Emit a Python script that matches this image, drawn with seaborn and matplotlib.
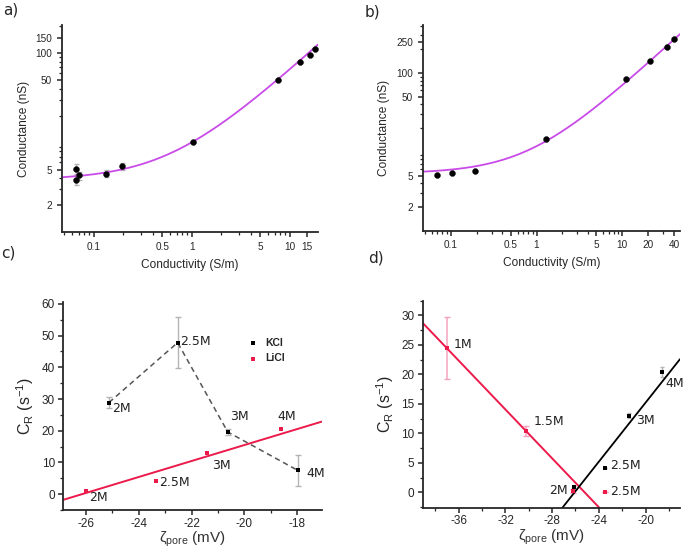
import numpy as np
import pandas as pd
import seaborn as sns
import matplotlib.pyplot as plt
from matplotlib.ticker import FixedLocator, FixedFormatter, MultipleLocator, LogLocator, NullFormatter

# -------------------------
# data
# -------------------------

# a) conductance vs conductivity
a_sigma = [0.0657, 0.0667, 0.071, 0.133, 0.195, 1.02, 7.6, 12.6, 16.0, 18.2]
a_g = [5.1, 3.83, 4.3, 4.5, 5.45, 10.1, 50, 80, 95, 111]
a_err = [0.6, 0.5, 0.45, 0.4, 0.45, 0, 0, 0, 0, 0]
a_fit = [6.3, 3.8]  # slope, intercept of G = G0 + k*sigma
a_xticks = [0.1, 0.5, 1, 5, 10, 15]
a_xlabels = ["0.1", "0.5", "1", "5", "10", "15"]
a_yticks = [2, 5, 50, 100, 150]
a_ylabels = ["2", "5", "50", "100", "150"]

# b) conductance vs conductivity
b_sigma = [0.07, 0.102, 0.192, 1.28, 10.96, 21, 33, 40.5]
b_g = [5.1, 5.45, 5.8, 14.4, 83.8, 140, 215, 268]
b_fit = [6.5, 5.3]
b_xticks = [0.1, 0.5, 1, 5, 10, 20, 40]
b_xlabels = ["0.1", "0.5", "1", "5", "10", "20", "40"]
b_yticks = [2, 5, 50, 100, 250]
b_ylabels = ["2", "5", "50", "100", "250"]

# c) capture rate vs zeta potential
c_kcl_zeta = [-25.13, -22.53, -20.63, -17.98]
c_kcl_cr = [28.9, 47.8, 19.6, 7.5]
c_kcl_err = [1.8, 8.0, 1.0, 5.0]
c_kcl_lab = ["2M", "2.5M", "3M", "4M"]
c_licl_zeta = [-26.0, -23.35, -21.4, -18.6]
c_licl_cr = [1.0, 4.2, 13.1, 20.5]
c_licl_lab = ["2M", "2.5M", "3M", "4M"]
c_licl_fit = [2.52, 65.9]

# d) capture rate vs zeta potential
d_red_zeta = [-37.0, -30.2, -26.2, -23.43]
d_red_cr = [24.45, 10.4, 0.2, 0.1]
d_red_err = [5.3, 0.8, 0.3, 0.0]
d_red_lab = ["1M", "1.5M", "", "2.5M"]
d_red_fit = [-2.07, -52.2]
d_blk_zeta = [-26.1, -23.43, -21.4, -18.57]
d_blk_cr = [0.85, 4.2, 13.0, 20.4]
d_blk_err = [0.3, 0.0, 0.4, 0.8]
d_blk_lab = ["2M", "2.5M", "3M", "4M"]
d_blk_fit = [2.5, 65.2]

# -------------------------
# style
# -------------------------
sns.set_theme(style="ticks")
plt.rcParams["font.family"] = ["Liberation Sans", "DejaVu Sans"]
plt.rcParams["mathtext.default"] = "regular"
plt.rcParams["axes.unicode_minus"] = False
plt.rcParams["axes.linewidth"] = 1.3
plt.rcParams["xtick.major.width"] = 1.1
plt.rcParams["ytick.major.width"] = 1.1
plt.rcParams["xtick.minor.width"] = 0.9
plt.rcParams["ytick.minor.width"] = 0.9
plt.rcParams["xtick.major.size"] = 3.5
plt.rcParams["ytick.major.size"] = 3.5
plt.rcParams["xtick.minor.size"] = 2.0
plt.rcParams["ytick.minor.size"] = 2.0
plt.rcParams["xtick.direction"] = "out"
plt.rcParams["ytick.direction"] = "out"

PURPLE = "#c94be8"
RED = "#ec1a4b"
PINK = "#f3a3bd"
GREY = "#b4b4b4"
ANN = ["DejaVu Sans"]

fig = plt.figure(figsize=(6.85, 5.51), dpi=100)
ax_a = fig.add_axes([0.0905, 0.579, 0.3737, 0.3757])
ax_b = fig.add_axes([0.617, 0.5813, 0.3756, 0.3733])
ax_c = fig.add_axes([0.0924, 0.0744, 0.377, 0.378])
ax_d = fig.add_axes([0.617, 0.0786, 0.3756, 0.3757])


def log_panel(ax, x, y, fit, xlim, ylim, xt, xl, yt, yl, err=None):
    ax.set_xscale("log")
    ax.set_yscale("log")
    grid = np.geomspace(xlim[0], xlim[1], 200)
    sns.lineplot(x=grid, y=np.polyval(fit, grid), ax=ax, color=PURPLE, lw=1.3, zorder=2)
    if err is not None:
        ax.errorbar(x, y, yerr=err, fmt="none", ecolor=GREY, elinewidth=1.0,
                    capsize=1.8, capthick=1.0, zorder=1)
    sns.scatterplot(x=x, y=y, ax=ax, color="black", s=18, edgecolor="black",
                    linewidth=0.3, zorder=3)
    ax.set_xlim(xlim)
    ax.set_ylim(ylim)
    ax.xaxis.set_major_locator(FixedLocator(xt))
    ax.xaxis.set_major_formatter(FixedFormatter(xl))
    ax.yaxis.set_major_locator(FixedLocator(yt))
    ax.yaxis.set_major_formatter(FixedFormatter(yl))
    ax.xaxis.set_minor_locator(LogLocator(base=10, subs=np.arange(2, 10)))
    ax.yaxis.set_minor_locator(LogLocator(base=10, subs=np.arange(2, 10)))
    ax.xaxis.set_minor_formatter(NullFormatter())
    ax.yaxis.set_minor_formatter(NullFormatter())
    ax.tick_params(labelsize=7.2)
    ax.set_xlabel("Conductivity (S/m)", fontsize=8.6, labelpad=5)
    ax.set_ylabel("Conductance (nS)", fontsize=8.6, labelpad=4)
    sns.despine(ax=ax)


log_panel(ax_a, a_sigma, a_g, a_fit, (0.0475, 19.3), (1.0, 208),
          a_xticks, a_xlabels, a_yticks, a_ylabels, err=a_err)
log_panel(ax_b, b_sigma, b_g, b_fit, (0.047, 47), (1.0, 406),
          b_xticks, b_xlabels, b_yticks, b_ylabels)


def zeta_axes(ax):
    ax.tick_params(labelsize=8.5)
    ax.tick_params(axis="x", pad=2)
    ax.tick_params(axis="y", pad=2.5)
    ax.set_xlabel("\u03b6$_{pore}$ (mV)", fontsize=11, labelpad=0, color="#333333")
    ax.set_ylabel("C$_R$ (s$^{-1}$)", fontsize=11.5, labelpad=4)
    sns.despine(ax=ax)


def label_points(ax, xs, ys, labels, offsets, ha="left"):
    for x, y, t, off in zip(xs, ys, labels, offsets):
        if t:
            ax.annotate(t, (x, y), xytext=off, textcoords="offset points",
                        ha=ha, va="center", fontsize=9, family=ANN, color="#222222")


# c)
c_xlim = (-26.86, -17.08)
ax_c.errorbar(c_kcl_zeta, c_kcl_cr, yerr=c_kcl_err, fmt="none", ecolor=GREY,
              elinewidth=1.0, capsize=2, capthick=1.0, zorder=1)
sns.lineplot(x=c_kcl_zeta, y=c_kcl_cr, ax=ax_c, color="#555555", lw=1.1,
             linestyle=(0, (3.5, 2.5)), zorder=2)
grid_c = np.linspace(c_xlim[0], c_xlim[1], 50)
sns.lineplot(x=grid_c, y=np.polyval(c_licl_fit, grid_c), ax=ax_c, color=RED, lw=1.4, zorder=2)
sns.scatterplot(x=c_kcl_zeta, y=c_kcl_cr, ax=ax_c, color="black", marker="s", s=9,
                linewidth=0, label="KCl", zorder=3)
sns.scatterplot(x=c_licl_zeta, y=c_licl_cr, ax=ax_c, color=RED, marker="s", s=12,
                linewidth=0, label="LiCl", zorder=3)
ax_c.set_xlim(c_xlim)
ax_c.set_ylim(-5, 60.7)
ax_c.xaxis.set_major_locator(MultipleLocator(2))
ax_c.xaxis.set_minor_locator(MultipleLocator(1))
ax_c.yaxis.set_major_locator(MultipleLocator(10))
ax_c.yaxis.set_minor_locator(MultipleLocator(5))
ax_c.legend(loc="upper left", bbox_to_anchor=(0.665, 0.86), frameon=False,
            handletextpad=0.2, labelspacing=0.5, borderpad=0.2,
            markerscale=1.0, prop={"weight": "bold", "size": 7.5})
label_points(ax_c, c_kcl_zeta, c_kcl_cr, c_kcl_lab,
             [(2, -4), (1.5, 0.5), (1.5, 11.5), (6.5, -2)])
label_points(ax_c, c_licl_zeta, c_licl_cr, c_licl_lab,
             [(2.5, -5), (2.5, -1.5), (3.5, -9), (-3, 9)])
zeta_axes(ax_c)

# d)
d_xlim = (-39.1, -17.05)
grid_d = np.linspace(d_xlim[0], d_xlim[1], 50)
ax_d.errorbar(d_red_zeta, d_red_cr, yerr=d_red_err, fmt="none", ecolor=PINK,
              elinewidth=1.1, capsize=2, capthick=1.0, zorder=1)
ax_d.errorbar(d_blk_zeta, d_blk_cr, yerr=d_blk_err, fmt="none", ecolor=GREY,
              elinewidth=1.0, capsize=1.5, capthick=1.0, zorder=1)
sns.lineplot(x=grid_d, y=np.polyval(d_red_fit, grid_d), ax=ax_d, color=RED, lw=1.4, zorder=2)
sns.lineplot(x=grid_d, y=np.polyval(d_blk_fit, grid_d), ax=ax_d, color="black", lw=1.3, zorder=2)
sns.scatterplot(x=d_red_zeta, y=d_red_cr, ax=ax_d, color=RED, marker="s", s=12,
                linewidth=0, zorder=3)
sns.scatterplot(x=d_blk_zeta, y=d_blk_cr, ax=ax_d, color="black", marker="s", s=9,
                linewidth=0, zorder=3)
ax_d.set_xlim(d_xlim)
ax_d.set_ylim(-2.6, 32.5)
ax_d.xaxis.set_major_locator(MultipleLocator(4))
ax_d.xaxis.set_minor_locator(MultipleLocator(2))
ax_d.yaxis.set_major_locator(MultipleLocator(5))
ax_d.yaxis.set_minor_locator(MultipleLocator(2.5))
label_points(ax_d, d_red_zeta, d_red_cr, d_red_lab,
             [(5, 2.5), (5, 6.5), (0, 0), (3, 0)])
label_points(ax_d, d_blk_zeta[1:], d_blk_cr[1:], d_blk_lab[1:],
             [(3, 1.5), (5, -3.5), (2, -8)])
label_points(ax_d, d_blk_zeta[:1], d_blk_cr[:1], d_blk_lab[:1], [(-5, -2)], ha="right")
zeta_axes(ax_d)

# panel letters
for txt, x, y in [("a)", 0.004, 0.982), ("b)", 0.533, 0.978),
                  ("c)", 0.002, 0.541), ("d)", 0.537, 0.532)]:
    fig.text(x, y, txt, fontsize=11, va="center", ha="left", family=ANN)

fig.savefig("out.png", dpi=100)
